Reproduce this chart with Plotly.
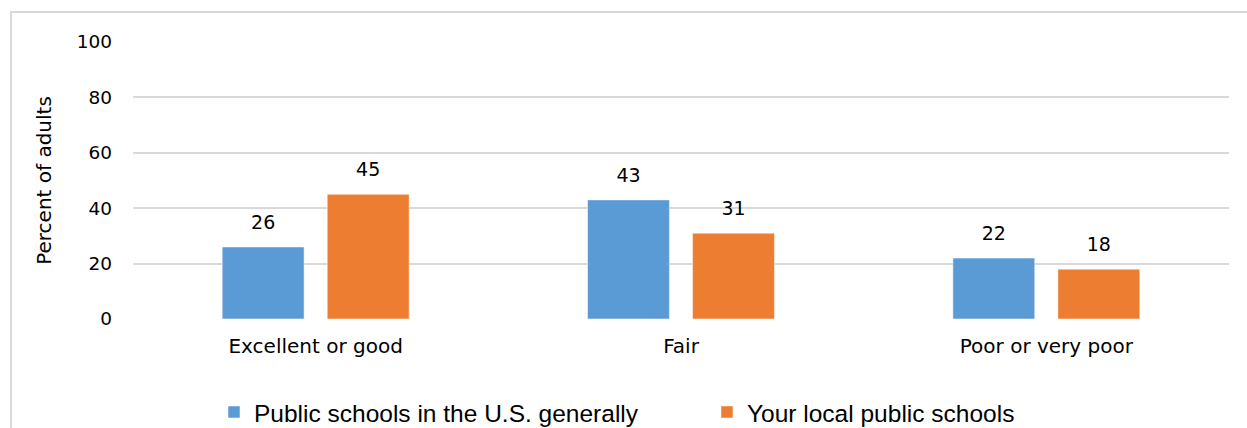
import plotly.graph_objects as go

# Survey data: rating of public schools
categories = ["Excellent or good", "Fair", "Poor or very poor"]
us_generally = [26, 43, 22]
local_schools = [45, 31, 18]
series_names = ["Public schools in the U.S. generally", "Your local public schools"]
y_ticks = [0, 20, 40, 60, 80, 100]

BLUE = "#5B9BD5"
ORANGE = "#ED7D31"
GRID = "#D9D9D9"
FONT = "'DejaVu Sans', sans-serif"

fig = go.Figure()

for name, vals, color in [(series_names[0], us_generally, BLUE),
                          (series_names[1], local_schools, ORANGE)]:
    fig.add_trace(go.Bar(
        x=categories, y=vals, name=name, offsetgroup=name,
        marker=dict(color=color, line=dict(color="rgba(255,255,255,0.5)", width=1)),
        hoverinfo="skip",
    ))

# value labels, grouped alongside the bars
for name, vals in [(series_names[0], us_generally), (series_names[1], local_schools)]:
    fig.add_trace(go.Scatter(
        x=categories, y=vals, mode="markers+text", offsetgroup=name,
        text=[str(v) for v in vals], textposition="top center",
        textfont=dict(family=FONT, size=19, color="#000000"),
        marker=dict(size=20, opacity=0), showlegend=False, hoverinfo="skip",
    ))

fig.update_layout(
    width=1247, height=428,
    margin=dict(l=133, r=18, t=42, b=109, autoexpand=False),
    paper_bgcolor="white", plot_bgcolor="white",
    barmode="group", bargap=0.425, bargroupgap=0.22,
    scattermode="group", scattergap=0.425,
    font=dict(family=FONT, size=18.5, color="#000000"),
    xaxis=dict(showgrid=False, showline=False, ticks="", tickfont=dict(size=20),
               ticklabelstandoff=13),
    yaxis=dict(range=[0, 100], tickvals=y_ticks, showgrid=True, gridcolor=GRID,
               gridwidth=1.5, zeroline=False, showline=False, ticks="",
               ticklabelstandoff=20,
               title=dict(text="Percent of adults", font=dict(size=20), standoff=19)),
    legend=dict(orientation="h", x=0.0739, xanchor="left", y=-0.336, yanchor="middle",
                bgcolor="rgba(0,0,0,0)",
                font=dict(family="'Liberation Sans', Arial, sans-serif", size=24.5),
                entrywidth=448, entrywidthmode="pixels", itemwidth=30),
    showlegend=True,
    shapes=[dict(type="rect", xref="paper", yref="paper",
                 x0=-0.1113, x1=1.05, y0=-0.5, y1=1.1083,
                 line=dict(color=GRID, width=2), layer="below")],
)

fig.write_html("out.html")
